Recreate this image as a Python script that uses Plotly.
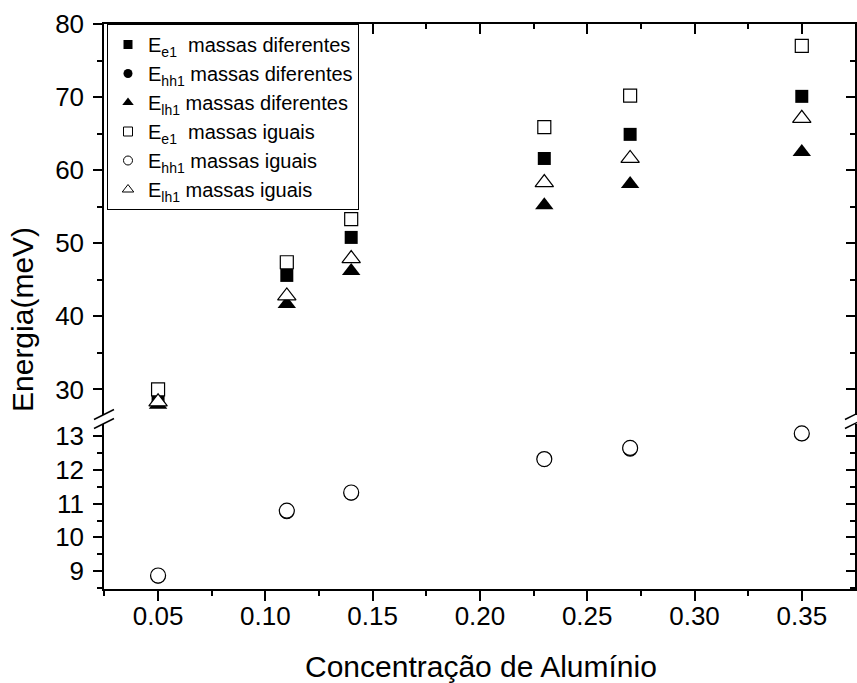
import plotly.graph_objects as go

# ---------------- data ----------------
conc = [0.05, 0.11, 0.14, 0.23, 0.27, 0.35]
e1_dif = [28.5, 45.6, 50.8, 61.6, 64.9, 70.1]
hh1_dif = [8.85, 10.76, 11.31, 12.31, 12.61, 13.07]
lh1_dif = [27.9, 41.7, 46.2, 55.2, 58.1, 62.5]
e1_igu = [30.0, 47.4, 53.3, 65.9, 70.2, 77.0]
hh1_igu = [8.87, 10.79, 11.33, 12.32, 12.65, 13.08]
lh1_igu = [28.3, 42.8, 47.9, 58.3, 61.6, 67.1]

names = [
    "E<sub>e1</sub>\u00a0\u00a0massas diferentes",
    "E<sub>hh1</sub> massas diferentes",
    "E<sub>lh1</sub> massas diferentes",
    "E<sub>e1</sub>\u00a0\u00a0massas iguais",
    "E<sub>hh1</sub> massas iguais",
    "E<sub>lh1</sub> massas iguais",
]

FONT = "Liberation Sans, Arial, sans-serif"

# series: (values, symbol, size, filled, axis)
series = [
    (e1_dif, "square", 13, True, "y2"),
    (hh1_dif, "circle", 15, True, "y"),
    (lh1_dif, "triangle-up", 16, True, "y2"),
    (e1_igu, "square", 13, False, "y2"),
    (hh1_igu, "circle", 15, False, "y"),
    (lh1_igu, "triangle-up", 16, False, "y2"),
]
legend_sizes = {"square": 9, "circle": 9, "triangle-up": 10}

fig = go.Figure()
for (vals, sym, size, filled, ax), name in zip(series, names):
    fig.add_trace(go.Scatter(
        x=conc, y=vals, mode="markers", xaxis="x", yaxis=ax,
        showlegend=False, cliponaxis=False,
        marker=dict(symbol=sym, size=size,
                    color="black" if filled else "white",
                    line=dict(color="black", width=0 if filled else 1.2)),
    ))
# legend entries (symbols only)
for (vals, sym, size, filled, ax), name in zip(series, names):
    fig.add_trace(go.Scatter(
        x=[None], y=[None], mode="markers", xaxis="x", yaxis=ax, name=name,
        marker=dict(symbol=sym, size=legend_sizes[sym],
                    color="black" if filled else "white",
                    line=dict(color="black", width=0 if filled else 1)),
    ))
# empty traces so the mirrored frame axes are created
for xa, ya in [("x2", "y2"), ("x", "y3"), ("x", "y4")]:
    fig.add_trace(go.Scatter(x=[None], y=[None], mode="markers", xaxis=xa,
                             yaxis=ya, showlegend=False, hoverinfo="skip"))

L, R, T, B = 104, 2, 24, 94
W, H = 857, 683
pw = W - L - R
ph = H - T - B
# domains with a small break gap
low_top_px = 424
up_bot_px = 415
low_dom = [0, (589 - low_top_px) / ph]
up_dom = [(589 - up_bot_px) / ph, 1]

xr = [0.0248, 0.3748]
low_r = [8.47, 13.36]
up_r = [26.5, 80]

common_y = dict(showline=True, linecolor="black", linewidth=1.5, showgrid=False,
                zeroline=False, tickcolor="black", tickwidth=1.5)

tickfont = dict(family=FONT, size=26, color="black")

fig.update_layout(
    width=W, height=H,
    margin=dict(l=L, r=R, t=T, b=B),
    paper_bgcolor="white", plot_bgcolor="white",
    font=dict(family=FONT, color="black"),
    xaxis=dict(domain=[0, 1], range=xr, anchor="y", tick0=0.05, dtick=0.05,
               tickformat=".2f", ticks="outside", ticklen=10, tickwidth=1.5,
               tickcolor="black", showline=True, linecolor="black", linewidth=1.5,
               showgrid=False, zeroline=False, tickfont=tickfont,
               ticklabelstandoff=-7,
               minor=dict(ticks="outside", ticklen=5, tick0=0.025, dtick=0.05,
                          tickcolor="black", tickwidth=1.5, showgrid=False)),
    xaxis2=dict(overlaying="x", side="top", anchor="y2", range=xr, tick0=0.05,
                dtick=0.05, ticks="inside", ticklen=10, tickwidth=1.5,
                tickcolor="black", showticklabels=False, showline=True,
                linecolor="black", linewidth=1.5, showgrid=False, zeroline=False,
                minor=dict(ticks="inside", ticklen=5, tick0=0.025, dtick=0.05,
                           tickcolor="black", tickwidth=1.5, showgrid=False)),
    yaxis=dict(domain=low_dom, range=low_r, anchor="x", tick0=9, dtick=1,
               ticks="outside", ticklen=9, tickfont=tickfont, ticklabelstandoff=4,
               minor=dict(ticks="outside", ticklen=5, tick0=8.5, dtick=1,
                          tickcolor="black", tickwidth=1.5, showgrid=False),
               **common_y),
    yaxis2=dict(domain=up_dom, range=up_r, anchor="x", tick0=30, dtick=10,
                ticks="outside", ticklen=9, tickfont=tickfont, ticklabelstandoff=4,
                minor=dict(ticks="outside", ticklen=5, tick0=35, dtick=10,
                           tickcolor="black", tickwidth=1.5, showgrid=False),
                **common_y),
    yaxis3=dict(overlaying="y", side="right", anchor="x", range=low_r, tick0=9,
                dtick=1, ticks="inside", ticklen=9, showticklabels=False,
                minor=dict(ticks="inside", ticklen=5, tick0=8.5, dtick=1,
                           tickcolor="black", tickwidth=1.5, showgrid=False),
                **common_y),
    yaxis4=dict(overlaying="y2", side="right", anchor="x", range=up_r, tick0=30,
                dtick=10, ticks="inside", ticklen=9, showticklabels=False,
                minor=dict(ticks="inside", ticklen=5, tick0=35, dtick=10,
                           tickcolor="black", tickwidth=1.5, showgrid=False),
                **common_y),
    legend=dict(x=(107 - L) / pw, y=1, xanchor="left", yanchor="top",
                bgcolor="white", bordercolor="black", borderwidth=1,
                font=dict(family=FONT, size=20, color="black"),
                tracegroupgap=0, itemwidth=30),
    showlegend=True,
)

def px_to_paper(px, py):
    return (px - L) / pw, (589 - py) / ph

shapes = []
for (x0, y0, x1, y1) in [(94, 419.5, 114, 409.5), (94, 428.5, 114, 418.5),
                          (845, 419.5, 865, 409.5), (845, 428.5, 865, 418.5)]:
    a = px_to_paper(x0, y0)
    b = px_to_paper(x1, y1)
    shapes.append(dict(type="line", xref="paper", yref="paper",
                       x0=a[0], y0=a[1], x1=b[0], y1=b[1],
                       line=dict(color="black", width=1.5)))
fig.update_layout(shapes=shapes)

fig.add_annotation(text="Energia(meV)", xref="paper", yref="paper",
                   x=(22 - L) / pw, y=(589 - 320) / ph, textangle=-90,
                   showarrow=False, xanchor="center", yanchor="middle",
                   font=dict(family=FONT, size=30, color="black"))
fig.add_annotation(text="Concentração de Alumínio", xref="paper", yref="paper",
                   x=(481 - L) / pw, y=(589 - 666) / ph,
                   showarrow=False, xanchor="center", yanchor="middle",
                   font=dict(family=FONT, size=30, color="black"))

fig.write_html("out.html")
